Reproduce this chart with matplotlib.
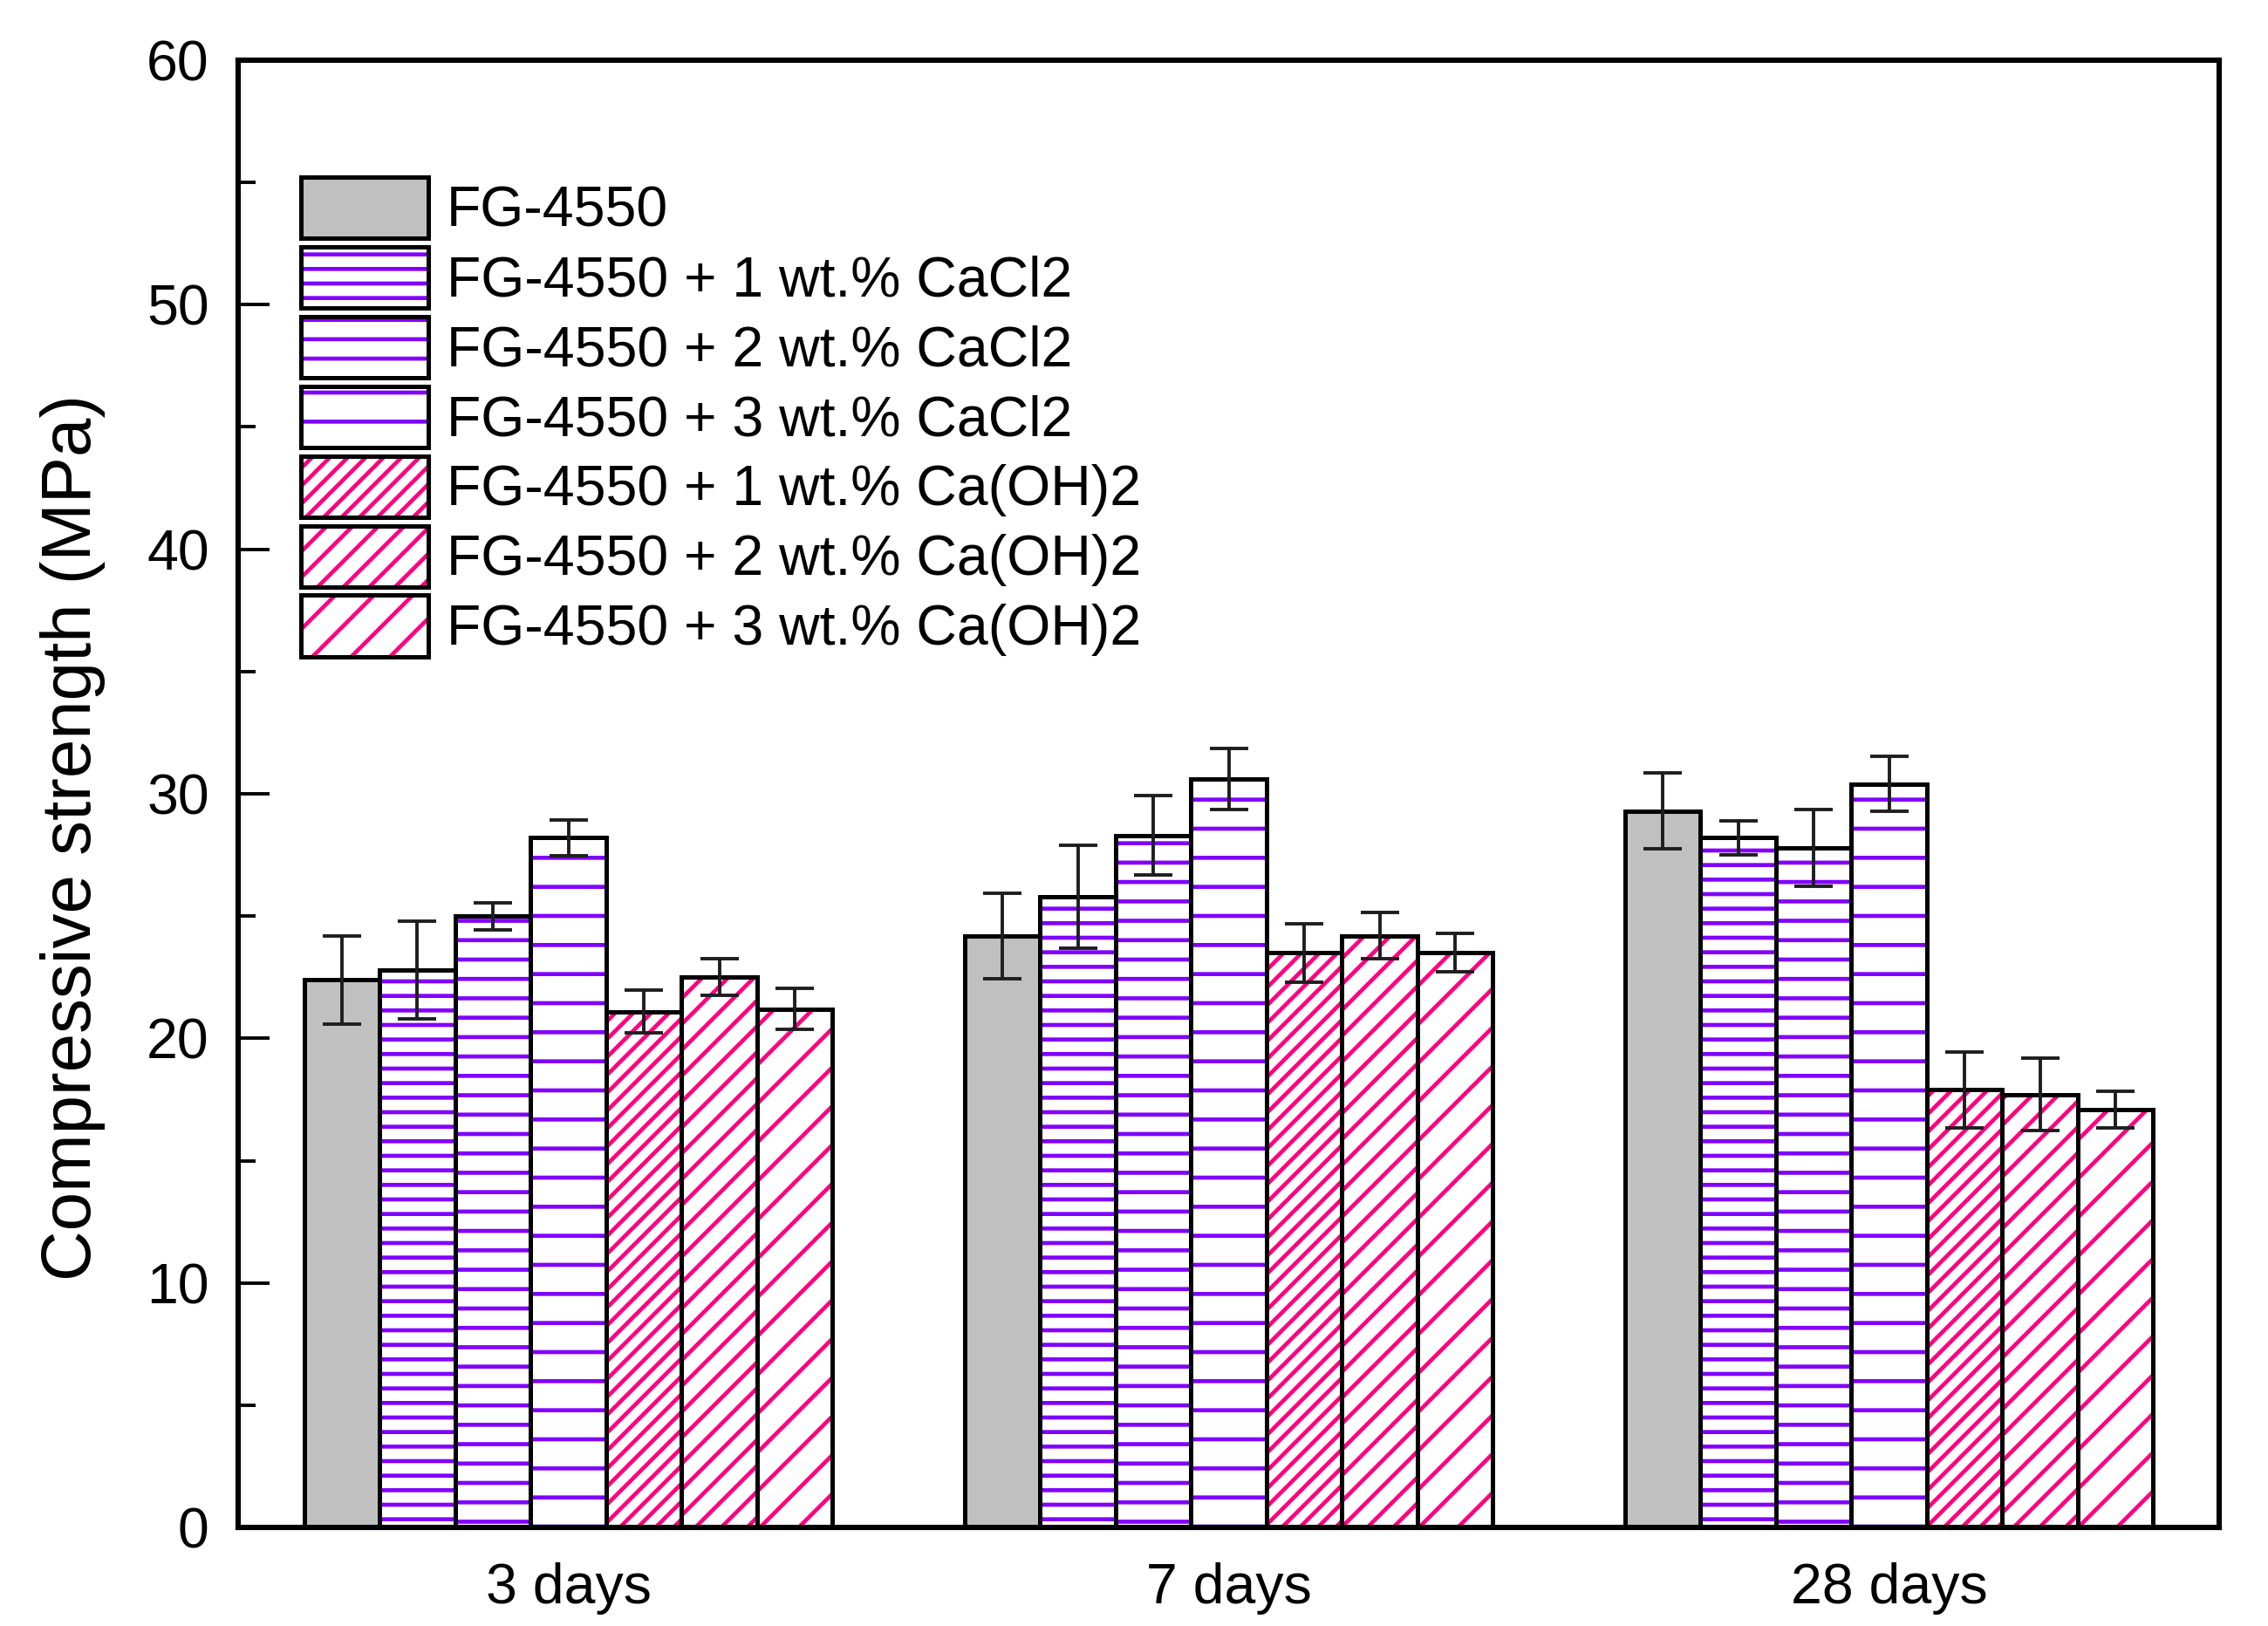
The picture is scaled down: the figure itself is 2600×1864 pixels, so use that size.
import matplotlib
matplotlib.use("Agg")
import matplotlib.pyplot as plt
from matplotlib.ticker import MultipleLocator
import numpy as np

# ---------------- data ----------------
categories = ["3 days", "7 days", "28 days"]
series_labels = [
    "FG-4550",
    "FG-4550 + 1 wt.% CaCl2",
    "FG-4550 + 2 wt.% CaCl2",
    "FG-4550 + 3 wt.% CaCl2",
    "FG-4550 + 1 wt.% Ca(OH)2",
    "FG-4550 + 2 wt.% Ca(OH)2",
    "FG-4550 + 3 wt.% Ca(OH)2",
]
fg4550 = [22.4, 24.2, 29.3]
cacl2_1 = [22.8, 25.8, 28.2]
cacl2_2 = [25.0, 28.3, 27.8]
cacl2_3 = [28.2, 30.6, 30.4]
caoh2_1 = [21.1, 23.5, 17.9]
caoh2_2 = [22.5, 24.2, 17.7]
caoh2_3 = [21.2, 23.5, 17.1]

fg4550_err = [1.8, 1.75, 1.55]
cacl2_1_err = [2.0, 2.1, 0.68]
cacl2_2_err = [0.55, 1.63, 1.57]
cacl2_3_err = [0.73, 1.25, 1.12]
caoh2_1_err = [0.88, 1.2, 1.55]
caoh2_2_err = [0.75, 0.95, 1.48]
caoh2_3_err = [0.83, 0.79, 0.75]

values = [fg4550, cacl2_1, cacl2_2, cacl2_3, caoh2_1, caoh2_2, caoh2_3]
errors = [fg4550_err, cacl2_1_err, cacl2_2_err, cacl2_3_err,
          caoh2_1_err, caoh2_2_err, caoh2_3_err]

# ---------------- style ----------------
PURPLE = "#8000FF"
PINK = "#FF0080"
GRAY = "#C0C0C0"
styles = [
    dict(face=GRAY, hatch=None, hcolor=GRAY),
    dict(face="white", hatch="-" * 8, hcolor=PURPLE),
    dict(face="white", hatch="-" * 6, hcolor=PURPLE),
    dict(face="white", hatch="-" * 4, hcolor=PURPLE),
    dict(face="white", hatch="/" * 13, hcolor=PINK),
    dict(face="white", hatch="/" * 9, hcolor=PINK),
    dict(face="white", hatch="/" * 6, hcolor=PINK),
]

plt.rcParams["font.family"] = ["Liberation Sans", "DejaVu Sans"]
plt.rcParams["hatch.linewidth"] = 0.42

DPI = 800
fig = plt.figure(figsize=(2600 / DPI, 1864 / DPI), dpi=DPI)
ax = fig.add_axes([0.105, 0.0606, 0.9785 - 0.105, 0.963 - 0.0606])

x = np.arange(1, len(categories) + 1)
n = len(values)
width = 0.8 / n
edge_lw = 0.45

handles = []
for i, (vals, errs, st) in enumerate(zip(values, errors, styles)):
    pos = x + (i - (n - 1) / 2) * width
    hb = ax.bar(pos, vals, width, color=st["face"], edgecolor=st["hcolor"],
                hatch=st["hatch"], linewidth=0, zorder=2)
    ob = ax.bar(pos, vals, width, fill=False, edgecolor="black",
                linewidth=edge_lw, zorder=3)
    ax.errorbar(pos, vals, yerr=errs, fmt="none", ecolor="#1e1e1e",
                elinewidth=0.35, capsize=1.95, capthick=0.35, zorder=4)
    handles.append((hb[0], ob[0]))

ax.set_xlim(0.5, 3.5)
ax.set_ylim(0, 60)
ax.set_xticks(x)
ax.set_xticklabels(categories)
ax.yaxis.set_major_locator(MultipleLocator(10))
ax.yaxis.set_minor_locator(MultipleLocator(5))
ax.set_axisbelow(True)

fs = 5.8
ax.tick_params(axis="y", which="major", direction="in", length=3.2,
               width=0.35, labelsize=fs, pad=3.0)
ax.tick_params(axis="y", which="minor", direction="in", length=1.8,
               width=0.35)
ax.tick_params(axis="x", which="major", direction="in", length=1.5,
               width=0.35, labelsize=fs, pad=3.6)
for sp in ax.spines.values():
    sp.set_linewidth(0.55)

ax.set_ylabel("Compressive strength (MPa)", fontsize=7.2)
ax.yaxis.set_label_coords(-0.067, 0.47)

leg = ax.legend(handles, series_labels, loc="upper left",
                bbox_to_anchor=(0.0317, 1 - 0.0797), frameon=False,
                fontsize=fs, borderpad=0, borderaxespad=0,
                handlelength=2.26, handleheight=1.30, labelspacing=0.15,
                handletextpad=0.33)

fig.savefig("out.png", dpi=DPI)
